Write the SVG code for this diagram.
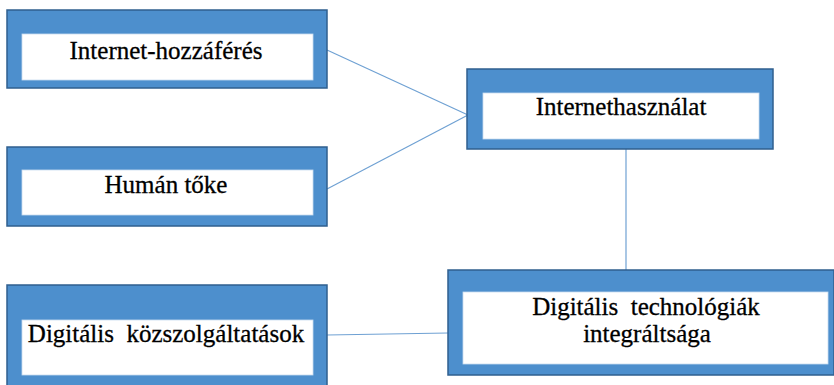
<svg xmlns="http://www.w3.org/2000/svg" width="834" height="385" viewBox="0 0 834 385">
<style>
.outer{fill:#4d8fcd;stroke:#2f5f8e;stroke-width:1.5}
.inner{fill:#ffffff;stroke:#c9dcef;stroke-width:0.8}
.lbl{font-family:"Liberation Serif","Times New Roman","DejaVu Serif",serif;font-size:25px;fill:#000;stroke:#000;stroke-width:0.3;text-anchor:middle}
.conn{stroke:#6fa1d3;stroke-width:1.2;fill:none}
</style>
<rect width="834" height="385" fill="#ffffff"/>
<g id="connectors">
<line class="conn" x1="327" y1="50" x2="468" y2="115"/>
<line class="conn" x1="327" y1="189" x2="468" y2="115"/>
<line class="conn" x1="626" y1="149" x2="626" y2="270"/>
<line class="conn" x1="327" y1="335" x2="448" y2="333"/>
</g>
<g id="internet-hozzaferes">
<rect class="outer" x="7" y="10" width="320" height="78"/>
<rect class="inner" x="22" y="34" width="291" height="46"/>
<text class="lbl" x="166" y="59">Internet-hozzáférés</text>
</g>
<g id="human-toke">
<rect class="outer" x="7" y="147" width="320" height="79"/>
<rect class="inner" x="22" y="170" width="291" height="45"/>
<text class="lbl" x="166" y="193">Humán tőke</text>
</g>
<g id="digitalis-kozszolgaltatasok">
<rect class="outer" x="7" y="285" width="320" height="104"/>
<rect class="inner" x="22" y="320" width="291" height="55"/>
<text class="lbl" x="166" y="342" xml:space="preserve">Digitális  közszolgáltatások</text>
</g>
<g id="internethasznalat">
<rect class="outer" x="467" y="69" width="306" height="80"/>
<rect class="inner" x="483" y="93" width="276" height="46"/>
<text class="lbl" x="621" y="115">Internethasználat</text>
</g>
<g id="digitalis-technologiak">
<rect class="outer" x="448" y="270" width="386" height="105"/>
<rect class="inner" x="463" y="292" width="365" height="72"/>
<text class="lbl" x="646" y="315" xml:space="preserve">Digitális  technológiák</text>
<text class="lbl" x="647" y="342">integráltsága</text>
</g>
</svg>
